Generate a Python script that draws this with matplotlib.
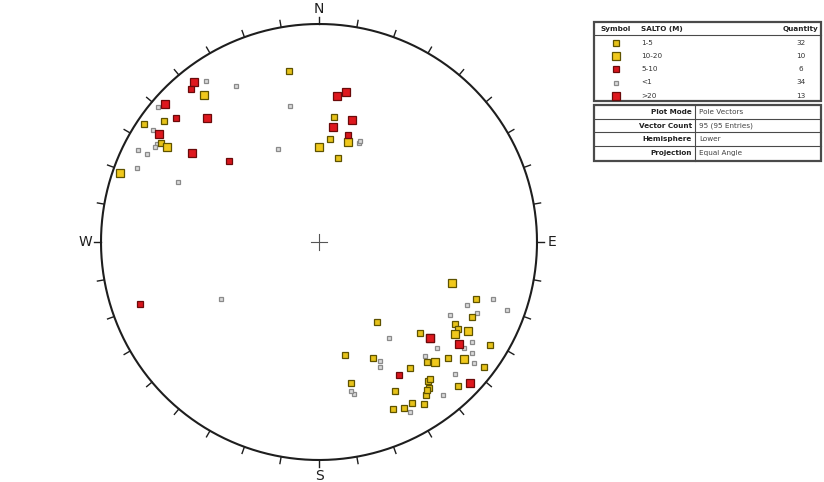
"""Lower-hemisphere stereonet of pole vectors grouped by SALTO (M)."""

import numpy as np
import matplotlib.pyplot as plt

# pole orientations (trend, plunge in degrees) for each SALTO class
trend_1_5 = [308, 304, 302, 350, 7, 6, 13, 110, 116, 144, 121, 122, 132, 121, 167, 155,
             138, 132, 127, 144, 142, 143, 136, 167, 153, 145, 150, 147, 153, 156, 141, 144]
plunge_1_5 = [6, 2, 9, 13, 30, 39, 47, 15, 14, 41, 18, 16, 26, 5, 34, 29,
              17, 13, 3, 19, 12, 10, 5, 23, 15, 9, 9, 7, 9, 10, 12, 10]

trend_10_20 = [322, 302, 289, 16, 0, 107, 124, 121, 136, 129]
plunge_10_20 = [9, 11, 2, 39, 43, 25, 16, 13, 15, 9]

trend_5_10 = [320, 311, 312, 15, 251, 149]
plunge_5_10 = [5, 8, 32, 36, 8, 19]

trend_lt1 = [325, 332, 310, 304, 301, 297, 297, 292, 293, 348, 336, 22, 240,
             108, 113, 114, 110, 119, 144, 126, 132, 123, 137, 126, 128, 153, 154,
             134, 167, 168, 141, 152, 300, 22]
plunge_lt1 = [6, 12, 2, 5, 8, 4, 7, 6, 20, 25, 40, 38, 35,
              10, 17, 13, 5, 21, 33, 11, 18, 10, 19, 8, 6, 27, 25,
              8, 19, 20, 6, 7, 8, 37]

trend_gt20 = [322, 312, 318, 304, 305, 7, 10, 15, 7, 131, 126, 133, 131]
plunge_gt20 = [4, 3, 15, 7, 19, 22, 20, 30, 34, 22, 13, 3, 22]

classes = ["1-5", "10-20", "5-10", "<1", ">20"]
quantities = [32, 10, 6, 34, 13]

meta_labels = ["Plot Mode", "Vector Count", "Hemisphere", "Projection"]
meta_values = ["Pole Vectors", "95 (95 Entries)", "Lower", "Equal Angle"]

styles = {
    "1-5": dict(ms=4.6, mfc="#E6C21A", mec="#5E5200"),
    "10-20": dict(ms=6.0, mfc="#F0C81C", mec="#5E5200"),
    "5-10": dict(ms=4.6, mfc="#D7151C", mec="#6A0A0A"),
    "<1": dict(ms=3.4, mfc="#DADADA", mec="#8A8A8A"),
    ">20": dict(ms=6.3, mfc="#DE181E", mec="#6A0A0A"),
}


def project(trend, plunge):
    # equal-angle (stereographic) projection, lower hemisphere
    t = np.radians(trend)
    r = np.tan(np.radians(90 - np.asarray(plunge)) / 2)
    return r * np.sin(t), r * np.cos(t)


fig = plt.figure(figsize=(8.24, 4.82), dpi=100)
fig.patch.set_facecolor("white")

ax = fig.add_axes([79.2 / 824, 0.2 / 482, 479.6 / 824, 479.6 / 482])
ax.set_xlim(-1.1, 1.1)
ax.set_ylim(-1.1, 1.1)
ax.set_aspect("equal")
ax.axis("off")

# primitive circle with outward ticks every 10 degrees
th = np.linspace(0, 2 * np.pi, 720)
ax.plot(np.cos(th), np.sin(th), color="#1E1E1E", lw=1.5, zorder=2)
for az in range(0, 360, 10):
    a = np.radians(az)
    ax.plot([np.sin(a), 1.032 * np.sin(a)], [np.cos(a), 1.032 * np.cos(a)],
            color="#1E1E1E", lw=1.0, zorder=2)

for lab, (x, y) in zip("NESW", [(0, 1.068), (1.07, 0), (0, -1.075), (-1.07, 0)]):
    ax.text(x, y, lab, ha="center", va="center", fontsize=10, color="#1E1E1E")

# centre cross
ax.plot([-0.035, 0.035], [0, 0], color="#555555", lw=0.8)
ax.plot([0, 0], [-0.035, 0.035], color="#555555", lw=0.8)

data = {
    "1-5": (trend_1_5, plunge_1_5),
    "10-20": (trend_10_20, plunge_10_20),
    "5-10": (trend_5_10, plunge_5_10),
    "<1": (trend_lt1, plunge_lt1),
    ">20": (trend_gt20, plunge_gt20),
}
for name in ["<1", "1-5", "10-20", ">20", "5-10"]:
    x, y = project(*data[name])
    ax.plot(x, y, "s", mew=0.9, zorder=3, **styles[name])

# legend tables drawn in pixel coordinates
tab = fig.add_axes([0, 0, 1, 1])
tab.set_xlim(0, 824)
tab.set_ylim(482, 0)
tab.axis("off")

edge = "#4A4A4A"
tab.add_patch(plt.Rectangle((594, 22), 227, 78.5, fill=False, ec=edge, lw=1.6))
tab.plot([594, 821], [34.7, 34.7], color=edge, lw=0.8)
hdr = dict(fontsize=5.2, fontweight="bold", color="#222222", va="center")
tab.text(616, 29, "Symbol", ha="center", **hdr)
tab.text(641, 29, "SALTO (M)", ha="left", **hdr)
tab.text(818, 29, "Quantity", ha="right", **hdr)

rows_y = [43, 56, 69, 82.5, 95.5]
for name, q, yy in zip(classes, quantities, rows_y):
    tab.plot([616], [yy], "s", mew=0.9, **styles[name])
    tab.text(641, yy, name, ha="left", va="center", fontsize=5.2, color="#333333")
    tab.text(801, yy, str(q), ha="center", va="center", fontsize=5.2, color="#333333")

tab.add_patch(plt.Rectangle((594, 105.3), 227, 55.4, fill=False, ec=edge, lw=1.6))
for yy in [118.5, 132, 145.5]:
    tab.plot([594, 821], [yy, yy], color=edge, lw=0.8)
tab.plot([695.5, 695.5], [105.3, 160.7], color=edge, lw=0.8)
for lab, val, yy in zip(meta_labels, meta_values, [112, 125.5, 139, 153]):
    tab.text(692, yy, lab, ha="right", va="center", fontsize=5.2, fontweight="bold", color="#222222")
    tab.text(699, yy, val, ha="left", va="center", fontsize=5.2, color="#444444")

plt.savefig("out.png", dpi=100, facecolor=fig.get_facecolor())
plt.close()
